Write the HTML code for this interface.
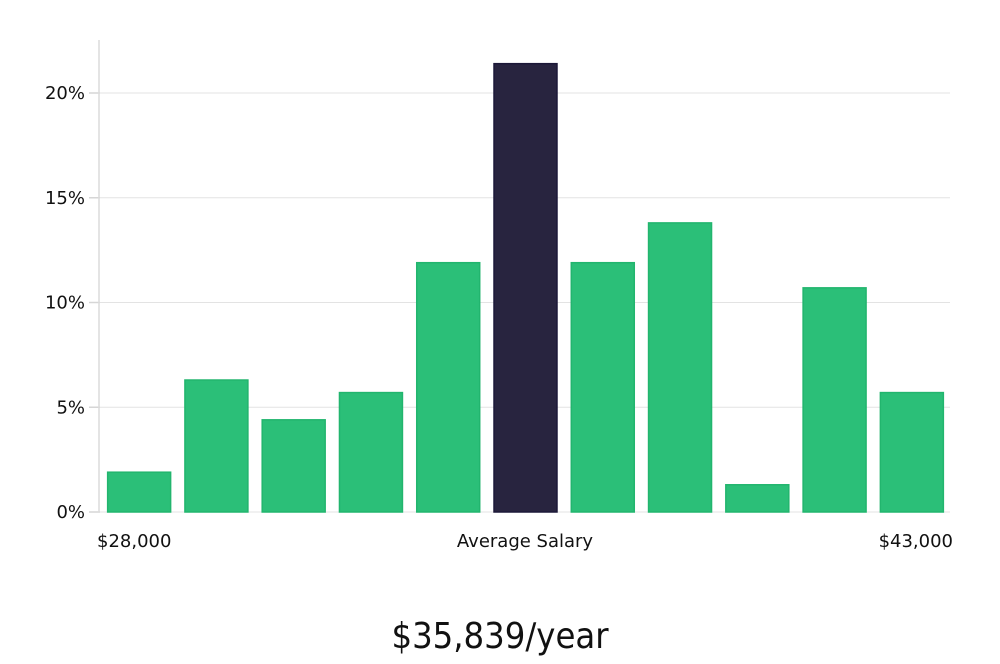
<!DOCTYPE html>
<html><head><meta charset="utf-8"><style>
body{margin:0;background:#fff;width:1000px;height:660px;overflow:hidden;font-family:"DejaVu Sans","Liberation Sans",sans-serif}
</style></head><body>
<svg width="1000" height="660" id="chart"></svg>
<script>
const categories=["b1","b2","b3","b4","b5","b6","b7","b8","b9","b10","b11"];
const values=[1.9,6.3,4.4,5.7,11.9,21.4,11.9,13.8,1.3,10.7,5.7];
const highlight=[false,false,false,false,false,true,false,false,false,false,false];
const yTicks=[0,5,10,15,20];
const yTickLabels=["0%","5%","10%","15%","20%"];
const xLabels=["$28,000","Average Salary","$43,000"];
const NS="http://www.w3.org/2000/svg";
const svg=document.getElementById('chart');
const L=100,R=950,Y0=512,Y20=93;
const y=v=>Y0-(Y0-Y20)*v/20;
const band=(R-L)/categories.length;
const bw=band*0.815;
function mk(t,a,p){const e=document.createElementNS(NS,t);for(const k in a)e.setAttribute(k,a[k]);(p||svg).appendChild(e);return e;}
yTicks.forEach((t,i)=>{
  if(t>0){const g=mk('line',{x1:L,x2:R,y1:y(t),y2:y(t),stroke:'#e3e3e3','stroke-width':1});
  
  }
  const tk=mk('line',{x1:89,x2:L,y1:y(t),y2:y(t),stroke:'#d6d6d6','stroke-width':1.5});
  
  
  const tx=mk('text',{x:85,y:y(t)+6,'text-anchor':'end','font-size':18,fill:'#111'});
  tx.textContent=yTickLabels[i];
  
  
});
const ax=mk('line',{x1:99,x2:99,y1:40,y2:Y0,stroke:'#dcdcdc','stroke-width':1.5});


const bl=mk('line',{x1:L,x2:R,y1:Y0,y2:Y0,stroke:'#e3e3e3','stroke-width':1});


values.forEach((v,i)=>{
  const x=L+band*i+(band-bw)/2+0.5;
  const r=mk('rect',{x:x,y:y(v),width:bw,height:Y0-y(v),fill:highlight[i]?'#28243f':'#2bbf78',stroke:highlight[i]?'#1c1838':'#22b56e','stroke-width':1.5});
  
  
});
const xl=[[97,'start'],[525,'middle'],[953,'end']];
xLabels.forEach((s,i)=>{
  const t=mk('text',{x:xl[i][0],y:547,'text-anchor':xl[i][1],'font-size':18,fill:'#111'});
  t.textContent=s;
  
  
});
const ttl=mk('text',{x:500,y:648,'text-anchor':'middle','font-size':36,fill:'#111','font-family':'"Liberation Sans Narrow","DejaVu Sans Condensed","Liberation Sans",sans-serif'});
ttl.textContent="$35,839/year";


</script>
</body></html>
